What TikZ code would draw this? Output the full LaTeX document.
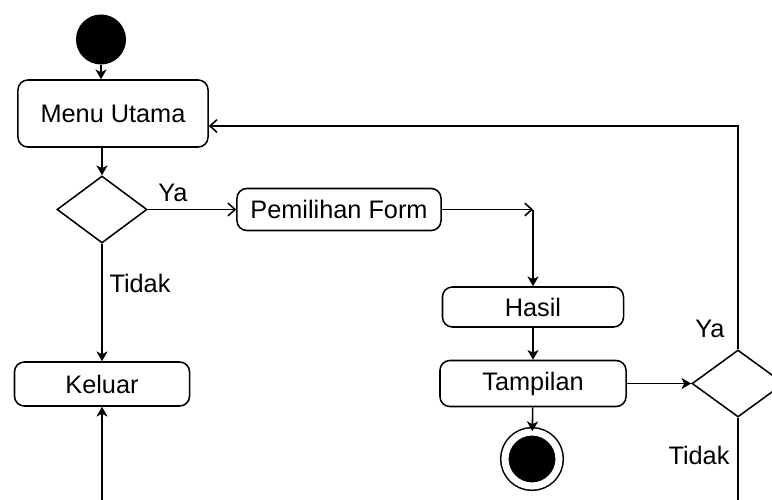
\documentclass[tikz,border=0pt]{standalone}
\usepackage{fontspec}
\setmainfont{Liberation Sans}
\usetikzlibrary{shapes.geometric,arrows.meta}

\begin{document}
\begin{tikzpicture}[x=0.025cm, y=-0.025cm, line width=1.1pt,
        font=\fontsize{18}{21}\selectfont,
        act/.style={draw, rounded corners=7pt, inner sep=0pt},
        decision/.style={draw, diamond, inner sep=0pt},
        startnode/.style={circle, fill, inner sep=0pt, minimum size=1.25cm},
        endnode/.style={circle, draw, fill, double=white, double distance=5pt, inner sep=0pt, minimum size=1.35cm},
        fl/.style={-{Stealth[length=7pt,width=8pt,inset=2pt]}},
        op/.style={-{Straight Barb[length=5pt,width=9pt]}}]
    \clip (0,0) rectangle (772,500);

    % nodes
    \node[startnode] (start) at (101,39.5) {};
    \node[act, minimum width=4.75cm, minimum height=1.675cm] (menu) at (113,113.5) {Menu Utama};
    \node[decision, minimum width=2.25cm, minimum height=1.675cm] (d1) at (102,209.5) {};
    \node[act, minimum width=5.1cm, minimum height=1.05cm] (pilih) at (339,209.5) {Pemilihan Form};
    \node[act, minimum width=4.525cm, minimum height=1.0cm] (hasil) at (533,307) {Hasil};
    \node[act, minimum width=4.65cm, minimum height=1.15cm] (tampil) at (533,383.5) {Tampilan};
    \node[endnode] (stop) at (532,459) {};
    \node[decision, minimum width=2.3cm, minimum height=1.675cm] (d2) at (738,383.5) {};
    \node[act, minimum width=4.375cm, minimum height=1.1cm] (keluar) at (102,384) {Keluar};

    \coordinate (j1) at (533,209.5);
    \coordinate (back) at (738,126);
    \coordinate (out1) at (738,500);
    \coordinate (in1) at (102,500);

    % labels
    \node (ya1) at (173,193) {Ya};
    \node (tidak1) at (140,283) {Tidak};
    \node (ya2) at (710,329) {Ya};
    \node (tidak2) at (699,455) {Tidak};

    % connectors
    \draw[fl] (start) -- (menu.north -| start);
    \draw[fl] (menu.south -| d1) -- (d1);
    \draw[op] (d1) -- (pilih);
    \draw[op] (pilih) -- (j1);
    \draw[fl] (j1) -- (hasil);
    \draw[fl] (hasil) -- (tampil);
    \draw[fl] (tampil) -- (stop);
    \draw[fl] (tampil) -- (d2);
    \draw[op] (d2.north) -- (back) -- (menu.east |- back);
    \draw (d2.south) -- (out1);
    \draw[fl] (d1) -- (keluar);
    \draw[fl] (in1) -- (keluar);
\end{tikzpicture}
\end{document}
